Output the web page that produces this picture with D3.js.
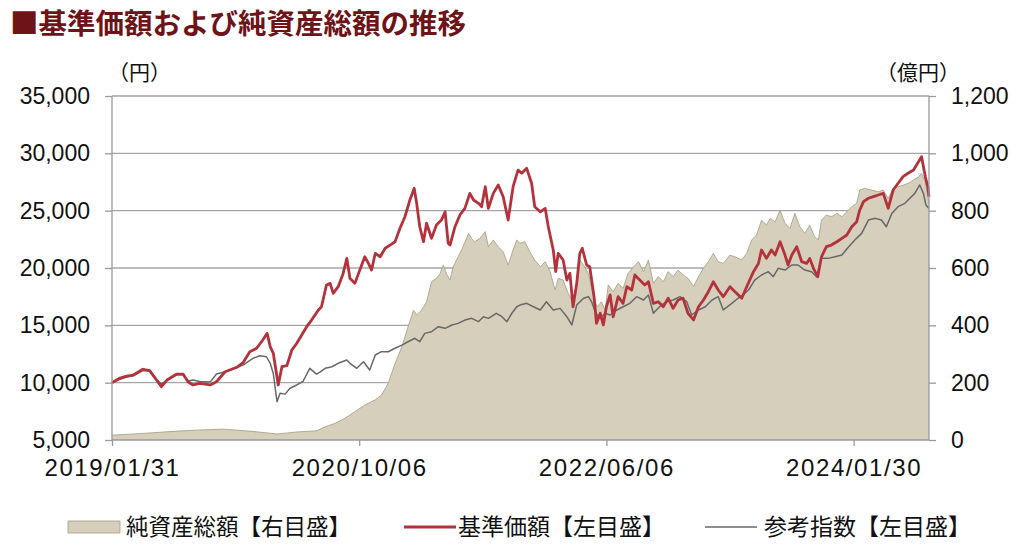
<!DOCTYPE html>
<html><head><meta charset="utf-8">
<script src="https://cdn.jsdelivr.net/npm/d3@7"></script>
<style>
html,body{margin:0;padding:0;background:#fff;}
svg{display:block;}
</style></head>
<body>
<svg id="c" width="1024" height="554"></svg>
<script>
// ---- data (trading-day position from 2019/01/31, values) ----
const navDay = [0,50,105,142,180,223,267,299,331,345,361,377,393,409,426,436,447,458,469,479,488,493,501,509,517,525,531,536,542,547,552,560,568,577,582,587,595,604,609,617,625,633,641,649,655,660,668,676,684,693,701,709,717,722,730,738,746,752,757,763,771,779,785,792,798,803,811,819,827,835,844,852,860,868,876,884,892,900,908,916,924,932,941,949,957,965,973,981,989,1000,1008,1019,1027,1035,1043,1051,1059,1065,1073,1081,1089,1097,1105,1113,1121,1129,1137,1143,1148,1156,1164,1173,1181,1189,1197,1205,1210,1218,1229,1240,1248,1256,1264,1272,1280,1288,1297,1305,1310,1316,1322];
const navValue = [17,23,31,35,38,31,21,28,32,46,58,76,99,122,140,157,198,267,325,395,453,436,453,482,552,564,581,610,576,558,604,639,674,721,703,692,703,727,674,698,674,657,610,663,698,686,692,657,628,604,622,587,523,564,558,512,482,547,628,610,581,500,465,482,453,541,517,547,529,581,604,622,587,628,547,570,552,587,570,593,576,564,535,570,599,622,651,622,616,645,639,628,651,698,715,767,750,773,761,802,756,738,791,744,721,750,709,698,767,785,779,791,779,796,814,826,872,878,872,866,872,843,878,884,889,895,907,918,930,901,826];

const navPriceDay = [0,13,24,34,50,61,72,80,89,105,115,123,131,142,159,169,183,202,212,223,234,244,251,256,261,269,275,283,291,299,307,315,323,334,339,347,353,358,366,374,380,385,393,401,409,415,420,426,434,442,450,458,466,474,482,489,493,498,504,509,517,525,533,539,544,547,555,563,571,579,585,593,598,604,609,617,625,633,641,649,657,663,671,679,684,693,701,706,714,718,722,730,736,741,746,752,757,761,768,773,780,784,790,795,800,806,811,819,827,833,841,846,854,862,868,876,884,892,900,908,916,924,932,941,949,957,965,973,981,989,1000,1008,1019,1027,1038,1046,1051,1059,1067,1073,1081,1089,1094,1100,1108,1116,1124,1129,1135,1142,1148,1156,1164,1173,1181,1189,1197,1205,1210,1216,1224,1232,1240,1248,1256,1264,1272,1280,1288,1297,1305,1310,1316,1320,1322];
const navPrice = [10000,10400,10580,10650,11170,11050,10230,9650,10230,10750,10750,10080,9800,9940,9800,10080,10950,11340,11740,12700,13000,13720,14300,13140,12560,9800,11390,11480,12850,13430,14160,14880,15460,16340,16620,18520,18660,17790,18370,19530,20840,19100,18660,19820,20980,20400,19820,21280,20980,21720,22000,22290,23460,24470,25930,26950,25640,23600,22290,23900,22590,23750,24180,24900,22160,22000,23600,24620,25200,26510,25930,25640,25350,27090,25200,26510,27240,26220,24180,27090,28540,28260,28690,27390,25350,24900,25200,23600,21570,19680,21280,20700,18950,19530,16620,18660,21280,21720,20260,20110,17500,15180,16050,15030,16620,17650,15750,17500,16920,18370,18080,19390,18950,18520,18800,16920,17060,16620,17360,16480,17210,17360,16050,15470,16620,17210,17930,18800,18080,17500,18370,17930,17360,18370,19680,20400,21570,20840,21570,21130,22290,21130,20260,21130,21860,20550,20400,20840,19970,19240,20980,21860,22000,22290,22590,22880,23600,24040,25060,25790,26080,26220,26370,26510,25200,26800,27390,27970,28260,28540,29270,29700,27970,27090,26220];

const refDay = [0,13,24,34,50,61,72,80,89,105,115,123,131,142,159,169,183,191,212,228,239,250,256,261,267,272,280,288,299,309,320,331,337,345,356,366,380,385,396,407,417,426,436,447,458,469,479,490,498,506,517,528,539,550,560,571,582,593,601,609,622,631,639,647,655,660,671,682,693,703,714,725,736,744,752,763,771,776,783,790,798,806,817,827,838,849,860,868,876,886,897,908,919,930,938,949,960,971,981,989,1003,1013,1021,1030,1040,1051,1062,1070,1078,1089,1100,1110,1121,1132,1140,1148,1159,1170,1181,1192,1202,1213,1224,1235,1245,1253,1262,1272,1283,1291,1299,1307,1313,1317,1322];
const refIndex = [10000,10300,10500,10600,11050,11000,10300,9850,10250,10700,10700,10150,10230,10100,10050,10750,10950,11100,11540,12120,12350,12260,11690,10800,8340,9070,9000,9510,9800,10100,11250,10750,10950,11250,11390,11690,11980,11690,11250,11830,11100,12410,12700,12700,13000,13280,13570,13870,13570,14300,14440,14880,14740,15030,15170,15460,15610,15320,15750,15610,16050,15750,15320,16050,16620,16770,16920,16620,16340,17060,16340,16480,15750,15030,16770,17360,17500,17060,16050,15610,16050,15900,16340,16620,16920,17500,17210,17650,16050,16620,17060,17210,17500,17060,15900,16340,16620,17210,17500,16340,16920,17360,17650,18080,18950,19390,19680,19240,19970,19820,20260,20260,19820,19680,19240,20840,20840,20980,21130,21860,22440,23020,24180,24330,24180,23600,24770,25350,25640,26080,26510,27240,26510,25490,25200];

const xDomainEnd = 1322;
const xTickDays = [0,400,800,1200];
const xTickLabels = ["2019/01/31","2020/10/06","2022/06/06","2024/01/30"];
const leftTicks = [5000,10000,15000,20000,25000,30000,35000];
const rightTicks = [0,200,400,600,800,1000,1200];
const legendLabels = ["純資産総額【右目盛】","基準価額【左目盛】","参考指数【左目盛】"];
const titleText = "■基準価額および純資産総額の推移";

// ---- layout ----
const L = 112, R = 929, T = 96, B = 440;
const svg = d3.select("#c");
const latin = "'Liberation Sans', Arial, 'Noto Sans CJK JP', sans-serif";
const cjk = "'Noto Sans CJK JP', sans-serif";

const x = d3.scaleLinear().domain([0, xDomainEnd]).range([L, R]);
const yL = d3.scaleLinear().domain([5000, 35000]).range([B, T]);
const yR = d3.scaleLinear().domain([0, 1200]).range([B, T]);

// title
svg.append("text").attr("x", 10).attr("y", 34)
  .attr("font-family", cjk).attr("font-weight", "bold").attr("font-size", 28.5)
  .attr("fill", "#6e1419").text(titleText);

// gridlines
svg.append("g").selectAll("line").data(leftTicks.filter(d => d > 5000)).join("line")
  .attr("x1", L).attr("x2", R).attr("y1", d => yL(d)).attr("y2", d => yL(d))
  .attr("stroke", "#a6a6a6").attr("stroke-width", 1.3);

// area
const navData = navDay.map((d, i) => [d, navValue[i]]);
svg.append("path").datum(navData)
  .attr("d", d3.area().x(d => x(d[0])).y0(yR(0)).y1(d => yR(d[1])))
  .attr("fill", "#d5cfbb").attr("stroke", "none");
svg.append("path").datum(navData)
  .attr("d", d3.line().x(d => x(d[0])).y(d => yR(d[1])))
  .attr("fill", "none").attr("stroke", "#a39d80").attr("stroke-width", 0.8);

// grey reference line
svg.append("path").datum(refDay.map((d, i) => [d, refIndex[i]]))
  .attr("d", d3.line().x(d => x(d[0])).y(d => yL(d[1])))
  .attr("fill", "none").attr("stroke", "#686868").attr("stroke-width", 1.5).attr("stroke-linejoin", "round");

// red NAV price line
svg.append("path").datum(navPriceDay.map((d, i) => [d, navPrice[i]]))
  .attr("d", d3.line().x(d => x(d[0])).y(d => yL(d[1])))
  .attr("fill", "none").attr("stroke", "#b3323b").attr("stroke-width", 2.8).attr("stroke-linejoin", "round");

// axes
const axL = svg.append("g").attr("transform", `translate(${L},0)`)
  .call(d3.axisLeft(yL).tickValues(leftTicks).tickSize(7).tickPadding(15).tickFormat(d3.format(",")));
const axR = svg.append("g").attr("transform", `translate(${R},0)`)
  .call(d3.axisRight(yR).tickValues(rightTicks).tickSize(7).tickPadding(15).tickFormat(d3.format(",")));
const axB = svg.append("g").attr("transform", `translate(0,${B})`)
  .call(d3.axisBottom(x).tickValues(xTickDays).tickSize(6).tickPadding(13).tickFormat((d, i) => xTickLabels[i]));
[axL, axR, axB].forEach(a => {
  a.select(".domain").attr("stroke", "#999").attr("stroke-width", 1.3);
  a.selectAll(".tick line").attr("stroke", "#999").attr("stroke-width", 1.3);
  a.selectAll("text").attr("font-family", latin).attr("font-size", 23).attr("fill", "#111");
});
axL.select(".domain").attr("d", `M0,${T}V${B}`);
axR.select(".domain").attr("d", `M0,${T}V${B}`);
axB.select(".domain").attr("d", `M${L},0H${R}`);
axB.selectAll("text").attr("font-size", 24).attr("letter-spacing", 1.6);

// unit labels
svg.append("text").attr("x", 108).attr("y", 80).attr("font-family", cjk).attr("font-size", 21).attr("fill", "#111").text("（円）");
svg.append("text").attr("x", 876).attr("y", 80).attr("font-family", cjk).attr("font-size", 21).attr("fill", "#111").text("（億円）");

// legend
const lg = svg.append("g");
const ly = 527;
lg.append("rect").attr("x", 68).attr("y", ly - 6).attr("width", 52).attr("height", 12)
  .attr("fill", "#d5cfbb").attr("stroke", "#a39d80").attr("stroke-width", 0.8);
lg.append("text").attr("x", 126).attr("y", ly + 8).attr("font-family", cjk).attr("font-size", 22.5).attr("fill", "#111").text(legendLabels[0]);
lg.append("line").attr("x1", 404).attr("x2", 456).attr("y1", ly).attr("y2", ly).attr("stroke", "#b3323b").attr("stroke-width", 2.8);
lg.append("text").attr("x", 458).attr("y", ly + 8).attr("font-family", cjk).attr("font-size", 23).attr("fill", "#111").text(legendLabels[1]);
lg.append("line").attr("x1", 705).attr("x2", 757).attr("y1", ly).attr("y2", ly).attr("stroke", "#686868").attr("stroke-width", 1.5);
lg.append("text").attr("x", 764).attr("y", ly + 8).attr("font-family", cjk).attr("font-size", 23).attr("fill", "#111").text(legendLabels[2]);
</script>
</body></html>
